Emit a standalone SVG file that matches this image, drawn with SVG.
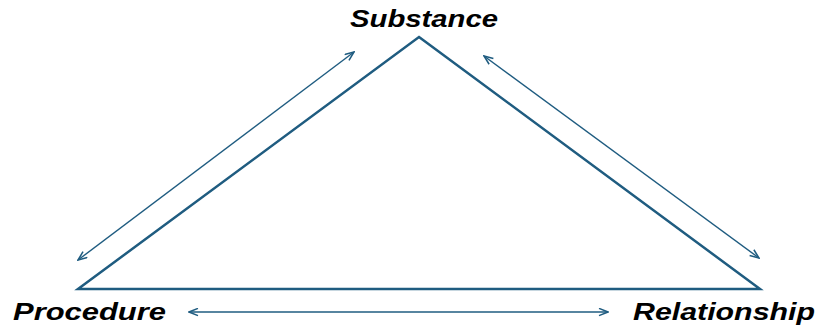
<svg xmlns="http://www.w3.org/2000/svg" width="827" height="326" viewBox="0 0 827 326">
  <style>
    .edge { fill: none; stroke: #1f5c80; stroke-width: 2.5; stroke-linejoin: miter; }
    .link { fill: none; stroke: #1f5c80; stroke-width: 1.4; }
    .label { font-family: "Liberation Sans", Arial, sans-serif; font-weight: bold; font-style: italic; font-size: 23px; fill: #000; }
  </style>
  <defs>
    <marker id="head" viewBox="0 0 12 10" refX="11" refY="5" markerWidth="11" markerHeight="9" markerUnits="userSpaceOnUse" orient="auto-start-reverse">
      <path d="M1,1 L11,5 L1,9" fill="none" stroke="#1f5c80" stroke-width="1.7"/>
    </marker>
  </defs>

  <g id="triangle">
    <polygon class="edge" points="419,37 760,289 78,289"/>
  </g>

  <g id="connectors">
    <line class="link" x1="78" y1="260" x2="354" y2="52" marker-start="url(#head)" marker-end="url(#head)"/>
    <line class="link" x1="484" y1="56" x2="759" y2="258" marker-start="url(#head)" marker-end="url(#head)"/>
    <line class="link" x1="189" y1="312" x2="608" y2="312" marker-start="url(#head)" marker-end="url(#head)"/>
  </g>

  <g id="node-substance">
    <text class="label" x="350" y="27" textLength="148" lengthAdjust="spacingAndGlyphs">Substance</text>
  </g>
  <g id="node-procedure">
    <text class="label" x="13" y="320" textLength="153" lengthAdjust="spacingAndGlyphs">Procedure</text>
  </g>
  <g id="node-relationship">
    <text class="label" x="633" y="320" textLength="182" lengthAdjust="spacingAndGlyphs">Relationship</text>
  </g>
</svg>
